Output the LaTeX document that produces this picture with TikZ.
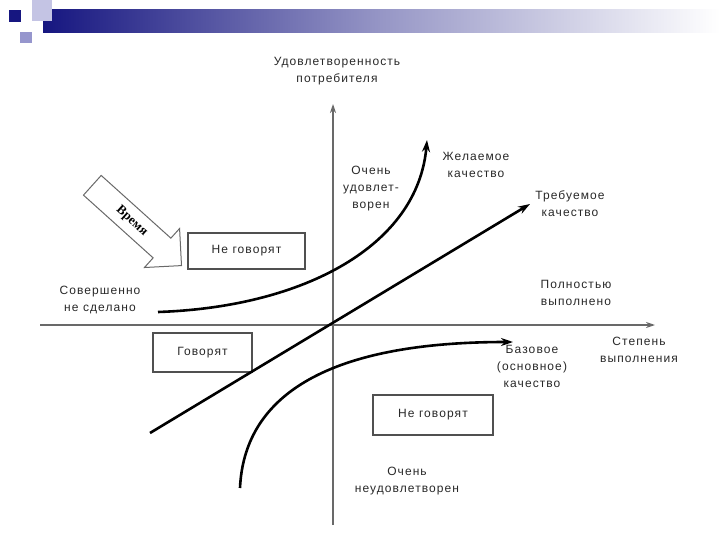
\documentclass[tikz,border=0pt]{standalone}
\usepackage{fontspec}
\setmainfont{Liberation Sans}[LetterSpace=9]
\newfontfamily\timefont{Liberation Serif}
\usetikzlibrary{arrows.meta, shapes.arrows, positioning}
\definecolor{axisgray}{RGB}{105,105,105}
\definecolor{boxgray}{RGB}{80,80,80}
\definecolor{labelgray}{RGB}{40,40,40}
\definecolor{navy}{RGB}{22,22,128}
\definecolor{lilac}{RGB}{196,196,228}
\definecolor{lilacdark}{RGB}{150,150,205}

\begin{document}
\begin{tikzpicture}[x=1pt, y=-1pt, font=\fontsize{12}{17}\selectfont,
    lbl/.style={text=labelgray, align=center, inner sep=0pt},
    saybox/.style={draw=boxgray, line width=1.1pt, text=labelgray},
    axisline/.style={axisgray, line width=1.6pt, -{Stealth[length=9pt, width=6pt]}},
    curveline/.style={black, line width=2.6pt, -{Stealth[length=12pt, width=8pt]}},
    timearrow/.style={single arrow, draw=axisgray, line width=1pt, fill=white,
      single arrow tip angle=90, single arrow head extend=13pt,
      single arrow head indent=0pt, minimum height=120pt,
      text height=9pt, text depth=2.5pt, inner ysep=7pt, inner xsep=4pt,
      font=\fontsize{13}{15}\selectfont}]
  \useasboundingbox (0,0) rectangle (720,540);
  % slide decoration
  \shade[left color=navy, right color=white, middle color=navy!45!white]
    (43,10) rectangle (720,33);
  \fill[lilac] (32,0) rectangle (52,21);
  \fill[lilacdark] (20,32) rectangle (32,43);
  \fill[navy] (9,10) rectangle (21,22);

  % axes
  \coordinate (o) at (333,325);
  \coordinate (xl) at (40,325);
  \coordinate (xr) at (655,325);
  \coordinate (yb) at (333,525);
  \coordinate (yt) at (333,104);
  \draw[axisline] (xl) -- (xr);
  \draw[axisline] (yb) -- (yt);

  % axis labels
  \node[lbl] (ylab) at (337,71) {Удовлетворенность\\потребителя};
  \node[lbl] (xlab) at (639,350) {Степень\\выполнения};
  \node[lbl] (full) at (576,293) {Полностью\\выполнено};
  \node[lbl] (none) at (100,300) {Совершенно\\не сделано};
  \node[lbl] (sat) at (371,189) {Очень\\удовлет-\\ворен};
  \node[lbl] (unsat) at (407,481) {Очень\\неудовлетворен};

  % boxes
  \node[saybox, minimum width=117pt, minimum height=36pt] (nsay1) at (246.5,251) {Не говорят};
  \node[saybox, minimum width=99pt, minimum height=39pt] (say) at (202.5,352.5) {Говорят};
  \node[saybox, minimum width=120pt, minimum height=40pt] (nsay2) at (433,415) {Не говорят};

  % time arrow
  \node[timearrow, rotate=-42] (time) at (132,221) {\timefont\bfseries Время};

  % quality curves
  \coordinate (desS) at (158,312);
  \coordinate (desE) at (427,140);
  \coordinate (reqS) at (150,433);
  \coordinate (reqE) at (530,204);
  \coordinate (basS) at (240,488);
  \coordinate (basE) at (513,342);
  \draw[curveline] (desS) .. controls (305,307) and (418,245) .. (desE);
  \draw[curveline] (reqS) -- (reqE);
  \draw[curveline] (basS) .. controls (244,400) and (320,342) .. (basE);

  \node[lbl] (des) at (476,165) {Желаемое\\качество};
  \node[lbl] (req) at (570,204) {Требуемое\\качество};
  \node[lbl] (bas) at (532,366) {Базовое\\(основное)\\качество};
\end{tikzpicture}
\end{document}
